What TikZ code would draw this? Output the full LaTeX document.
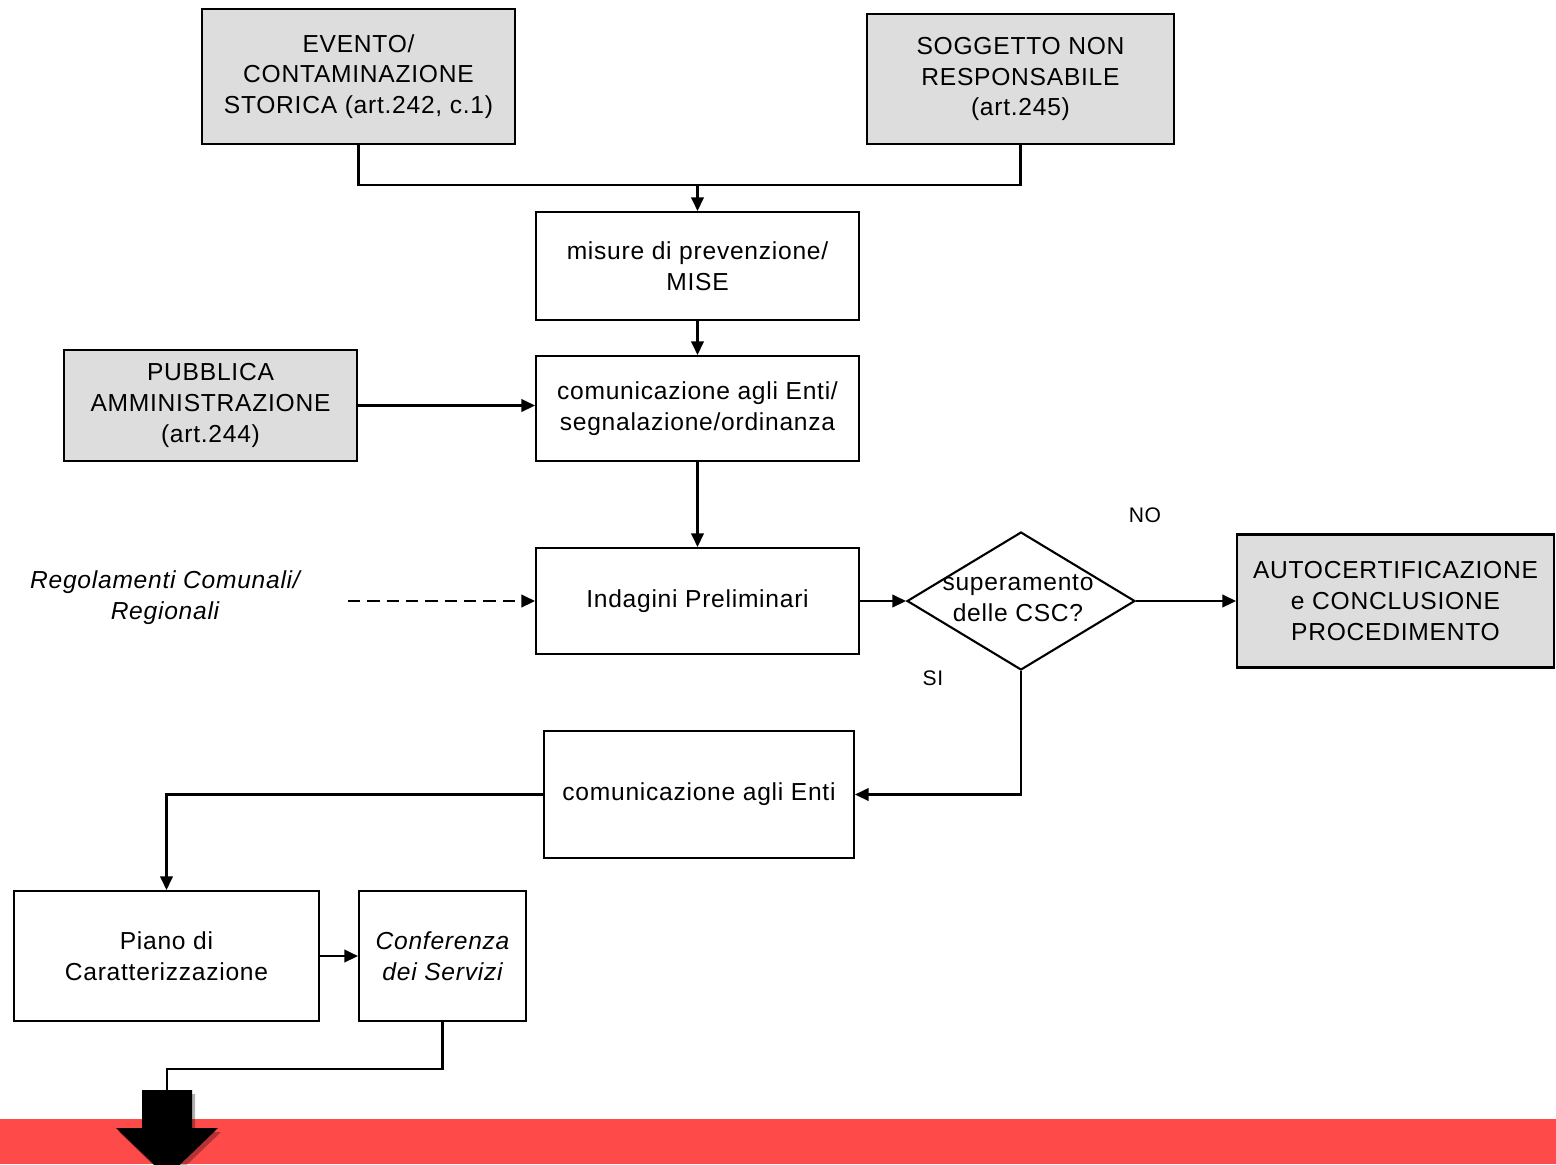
\documentclass[tikz,border=0pt]{standalone}
\usepackage{fontspec}
\setmainfont{Liberation Sans}[LetterSpace=3]
\usetikzlibrary{shapes.geometric,arrows.meta}
\definecolor{boxgray}{RGB}{221,221,221}
\definecolor{barred}{RGB}{255,74,74}
\begin{document}
\begin{tikzpicture}[x=0.02cm,y=-0.02cm,
  font=\fontsize{14}{17.5}\selectfont,
  box/.style={draw, line width=1.2pt, align=center, inner sep=0pt},
  gbox/.style={box, fill=boxgray},
  conn/.style={line width=1.3pt},
  arr/.style={conn, -{Triangle[length=0.27cm,width=0.25cm]}},
  lbl/.style={font=\fontsize{12}{14}\selectfont}]
\clip (0,0) rectangle (1556,1164);
\fill[white] (0,0) rectangle (1556,1164);
\fill[barred] (0,1119) rectangle (1556,1164);

% boxes
\node[gbox, minimum width=6.26cm, minimum height=2.70cm] (ev) at (358.5,76.5)
  {EVENTO/\\CONTAMINAZIONE\\STORICA (art.242, c.1)};
\node[gbox, minimum width=6.14cm, minimum height=2.60cm] (sog) at (1020.5,79)
  {SOGGETTO NON\\RESPONSABILE\\(art.245)};
\node[box, minimum width=6.46cm, minimum height=2.16cm] (mis) at (697.5,266)
  {misure di prevenzione/\\MISE};
\node[box, minimum width=6.46cm, minimum height=2.10cm] (com1) at (697.5,408.5)
  {comunicazione agli Enti/\\segnalazione/ordinanza};
\node[gbox, minimum width=5.86cm, minimum height=2.22cm] (pa) at (210.5,405.5)
  {PUBBLICA\\AMMINISTRAZIONE\\(art.244)};
\node[box, minimum width=6.46cm, minimum height=2.12cm] (ind) at (697.5,601)
  {Indagini Preliminari};
\node[align=center, font=\itshape\fontsize{14}{17.5}\selectfont] (reg) at (165,598)
  {Regolamenti Comunali/\\Regionali};
\coordinate (regend) at (348,601);
\node[diamond, draw, line width=1.2pt, minimum width=4.56cm, minimum height=2.76cm, inner sep=0pt] (dia) at (1021,601) {};
\node[align=center] (diatext) at (1018,598) {superamento\\delle CSC?};
\node[gbox, minimum width=6.34cm, minimum height=2.66cm] (auto) at (1395.5,601)
  {AUTOCERTIFICAZIONE\\e CONCLUSIONE\\PROCEDIMENTO};
\node[lbl] (no) at (1145,515) {NO};
\node[lbl] (si) at (933,678) {SI};
\node[box, minimum width=6.20cm, minimum height=2.54cm] (com2) at (699,794.5)
  {comunicazione agli Enti};
\node[box, minimum width=6.10cm, minimum height=2.60cm] (piano) at (166.5,956)
  {Piano di\\Caratterizzazione};
\node[box, minimum width=3.34cm, minimum height=2.60cm, font=\itshape\fontsize{14}{17.5}\selectfont] (conf) at (442.5,956)
  {Conferenza\\dei Servizi};

% connectors
\coordinate (j1) at (mis.north |- 0,185);
\draw[conn] (ev.south) -- (ev.south |- 0,185) -| (sog.south);
\draw[arr] (j1) -- (mis.north);
\draw[arr] (mis.south) -- (com1.north);
\draw[arr] (pa.east) -- (pa.east -| com1.west);
\draw[arr] (com1.south) -- (ind.north);
\draw[arr, dash pattern=on 7pt off 4pt] (regend) -- (ind.west);
\draw[arr] (ind.east) -- (dia.west);
\draw[arr] (dia.east) -- (auto.west);
\draw[arr] (dia.south) |- (com2.east);
\draw[arr] (com2.west) -| (piano.north);
\draw[arr] (piano.east) -- (conf.west);

% big arrow
\coordinate (bigtop) at (167,1090);
\draw[conn] (conf.south) -- ++(0,47) -| (bigtop);
\fill[black, opacity=0.3, shift={(3,4)}] (142,1090) -- (192,1090) -- (192,1128) -- (218,1128) -- (167,1177) -- (116,1128) -- (142,1128) -- cycle;
\fill[black] (142,1090) -- (192,1090) -- (192,1128) -- (218,1128) -- (167,1177) -- (116,1128) -- (142,1128) -- cycle;
\end{tikzpicture}
\end{document}
